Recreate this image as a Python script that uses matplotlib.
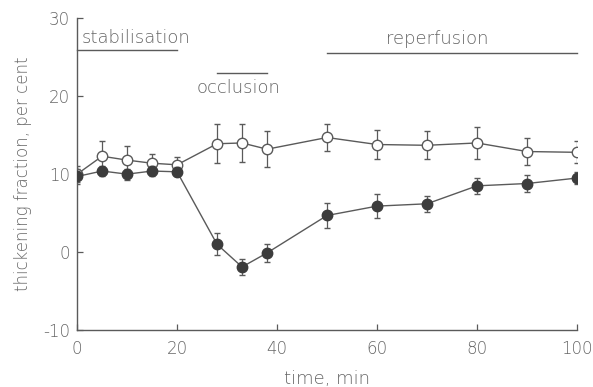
import numpy as np
import matplotlib.pyplot as plt

plt.rcParams['axes.unicode_minus'] = False
plt.rcParams['font.weight'] = 'light'
plt.rcParams['axes.labelweight'] = 'light'

time_min = [0, 5, 10, 15, 20, 28, 33, 38, 50, 60, 70, 80, 90, 100]

open_vals = [10.0, 12.3, 11.8, 11.4, 11.2, 13.9, 14.0, 13.2, 14.7, 13.8, 13.7, 14.0, 12.9, 12.8]
open_err = [1.0, 2.0, 1.8, 1.2, 1.0, 2.5, 2.4, 2.3, 1.7, 1.9, 1.8, 2.0, 1.7, 1.4]

filled_vals = [9.7, 10.4, 10.0, 10.4, 10.3, 1.0, -1.9, -0.1, 4.7, 5.9, 6.2, 8.5, 8.8, 9.5]
filled_err = [1.0, 0.6, 0.7, 0.6, 0.6, 1.4, 1.0, 1.2, 1.6, 1.5, 1.0, 1.0, 1.1, 0.8]

phases = ["stabilisation", "occlusion", "reperfusion"]
phase_start = [0, 28, 50]
phase_end = [20, 38, 100]
phase_level = [25.9, 23.0, 25.6]

ink = '#5a5a5a'
txt = '#666666'

fig = plt.figure(figsize=(5.93, 3.87), dpi=100)
ax = fig.add_axes([0.130, 0.147, 0.843, 0.806])

ax.errorbar(time_min, open_vals, yerr=open_err, color=ink, lw=1.0,
            marker='o', ms=7.5, mfc='white', mec=ink, mew=1.0,
            ecolor=ink, elinewidth=0.9, capsize=2, zorder=3)
ax.errorbar(time_min, filled_vals, yerr=filled_err, color=ink, lw=1.0,
            marker='o', ms=7.5, mfc='#3c3c3c', mec='#3c3c3c',
            ecolor=ink, elinewidth=0.9, capsize=2, zorder=4)

for name, x0, x1, lev in zip(phases, phase_start, phase_end, phase_level):
    ax.plot([x0, x1], [lev, lev], color=ink, lw=1.0, clip_on=False)

ax.text(1, 27.4, "stabilisation", fontsize=13, color=txt, va='center', ha='left')
ax.text(24, 21.0, "occlusion", fontsize=13, color=txt, va='center', ha='left')
ax.text(72, 27.3, "reperfusion", fontsize=13, color=txt, va='center', ha='center')

ax.set_xlim(0, 100)
ax.set_ylim(-10, 30)
ax.set_xticks([0, 20, 40, 60, 80, 100])
ax.set_yticks([-10, 0, 10, 20, 30])
ax.tick_params(direction='in', colors=ink, labelsize=12, length=4, width=0.9,
               labelcolor=txt)
ax.tick_params(axis='x', pad=7)
ax.tick_params(axis='y', pad=5)
ax.spines['top'].set_visible(False)
ax.spines['right'].set_visible(False)
for s in ['left', 'bottom']:
    ax.spines[s].set_color(ink)
    ax.spines[s].set_linewidth(1.0)

ax.set_xlabel("time, min", fontsize=13, color=txt, labelpad=9)
ax.set_ylabel("thickening fraction, per cent", fontsize=12, color=txt, labelpad=8)

plt.savefig("out.png", dpi=100)
